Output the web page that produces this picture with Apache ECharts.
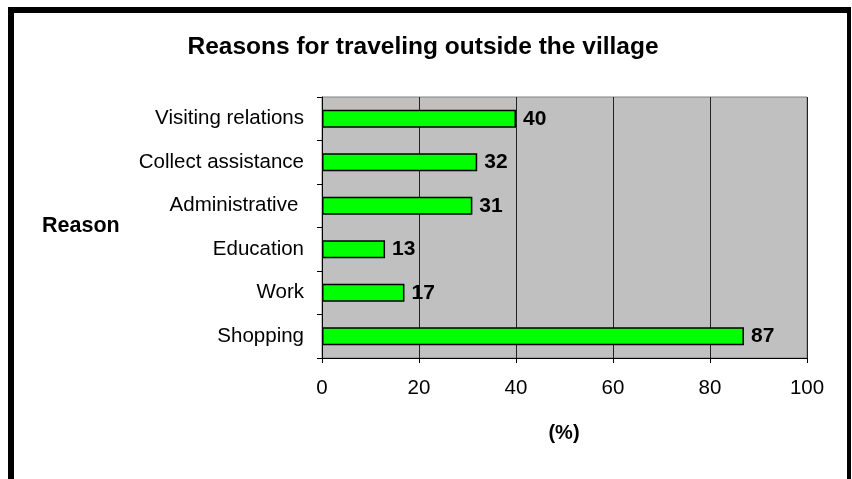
<!DOCTYPE html>
<html>
<head>
<meta charset="utf-8">
<script src="https://cdn.jsdelivr.net/npm/echarts@6/dist/echarts.min.js"></script>
<style>
  html, body { margin: 0; padding: 0; background: #fff; }
  #chart { width: 852px; height: 479px; }
</style>
</head>
<body>
<div id="chart"></div>
<script>
// Reasons, listed bottom to top as they appear on the axis
const reasons = ['Shopping', 'Work', 'Education', 'Administrative ', 'Collect assistance', 'Visiting relations'];
// Share of respondents (%)
const shares = [87, 17, 13, 31, 32, 40];
const xTicks = [0, 20, 40, 60, 80, 100];

const FONT = 'Arial, "Liberation Sans", sans-serif';
const chart = echarts.init(document.getElementById('chart'), null, { renderer: 'canvas' });

chart.setOption({
  backgroundColor: '#ffffff',
  animation: false,
  title: {
    text: 'Reasons for traveling outside the village',
    left: 418, top: 30, textAlign: 'center',
    textStyle: { fontFamily: FONT, fontSize: 24.5, fontWeight: 'bold', color: '#000' }
  },
  grid: {
    left: 322, right: 45, top: 97, bottom: 121,
    show: true, backgroundColor: '#c0c0c0', borderColor: '#808080', borderWidth: 1
  },
  xAxis: {
    type: 'value',
    min: xTicks[0], max: xTicks[xTicks.length - 1], interval: 20,
    axisLine: { show: true, lineStyle: { color: '#000', width: 1 } },
    axisTick: { show: true, length: 5, lineStyle: { color: '#000' } },
    splitLine: { show: true, lineStyle: { color: '#222', width: 1 } },
    axisLabel: { fontFamily: FONT, fontSize: 20.5, color: '#000', margin: 20 }
  },
  yAxis: {
    type: 'category',
    data: reasons,
    axisLine: { show: true, lineStyle: { color: '#000', width: 1 } },
    axisTick: { show: true, length: 5, lineStyle: { color: '#000' } },
    axisLabel: { fontFamily: FONT, fontSize: 20.5, color: '#000', margin: 18 }
  },
  series: [{
    type: 'bar',
    data: shares,
    barWidth: 18,
    itemStyle: { color: '#00ff00', borderColor: '#000', borderWidth: 1.5 },
    label: {
      show: true, position: 'right', distance: 7,
      fontFamily: FONT, fontSize: 21, fontWeight: 'bold', color: '#000'
    }
  }],
  graphic: [
    { type: 'text', left: 42, top: 215,
      style: { text: 'Reason', font: 'bold 21.5px ' + FONT, fill: '#000' } },
    { type: 'text', x: 564, y: 433,
      style: { text: '(%)', font: 'bold 20px ' + FONT, fill: '#000', align: 'center', verticalAlign: 'middle' } },
    // outer frame
    { type: 'rect', shape: { x: 8, y: 7, width: 6, height: 472 }, style: { fill: '#000' } },
    { type: 'rect', shape: { x: 8, y: 7, width: 843, height: 6 }, style: { fill: '#000' } },
    { type: 'rect', shape: { x: 847, y: 7, width: 4, height: 472 }, style: { fill: '#000' } }
  ]
});
</script>
</body>
</html>
